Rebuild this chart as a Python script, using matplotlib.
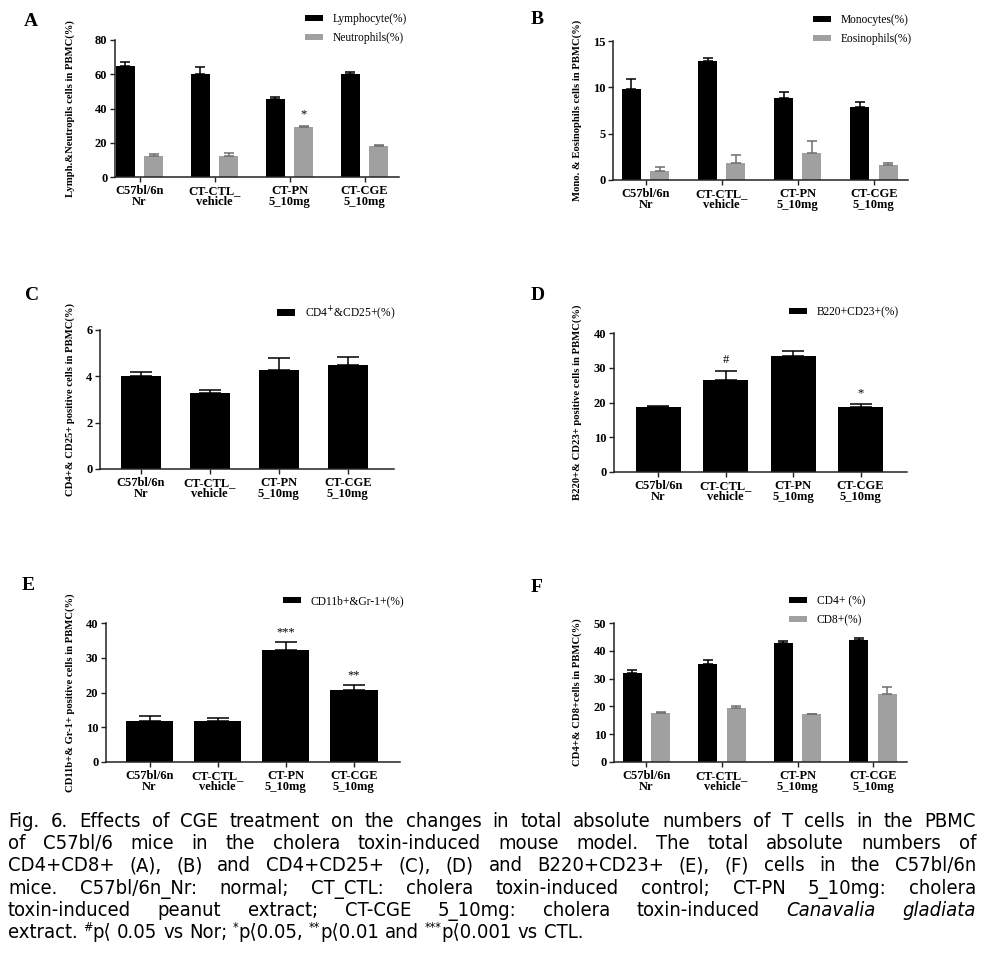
import matplotlib
matplotlib.use('Agg')
import matplotlib.pyplot as plt
import numpy as np

# ---------------- data ----------------
categories = ["C57bl/6n\nNr", "CT-CTL_\nvehicle", "CT-PN\n5_10mg", "CT-CGE\n5_10mg"]

lymph = [65.0, 60.3, 45.8, 60.3]
lymph_err = [2.0, 4.0, 1.0, 0.8]
neutro = [12.2, 12.2, 29.3, 18.3]
neutro_err = [1.4, 2.0, 0.4, 0.5]
sig_A = ["", "", "*", ""]          # over neutrophils

mono = [9.8, 12.8, 8.9, 7.9]
mono_err = [1.15, 0.35, 0.55, 0.5]
eos = [0.95, 1.8, 2.95, 1.65]
eos_err = [0.4, 0.85, 1.25, 0.15]

cd4cd25 = [4.0, 3.3, 4.27, 4.47]
cd4cd25_err = [0.19, 0.12, 0.5, 0.35]

b220 = [18.6, 26.4, 33.3, 18.8]
b220_err = [0.5, 2.8, 1.4, 0.8]
sig_D = ["", "#", "", "*"]

cd11b = [11.7, 11.9, 32.3, 20.8]
cd11b_err = [1.4, 0.7, 2.1, 1.3]
sig_E = ["", "", "***", "**"]

cd4 = [31.9, 35.3, 42.7, 44.0]
cd4_err = [1.1, 1.3, 0.8, 0.7]
cd8 = [17.5, 19.6, 17.3, 24.6]
cd8_err = [0.6, 0.7, 0.0, 2.3]

caption_lines = [
    [("Fig. 6. Effects of CGE treatment on the changes in total absolute numbers of T cells in the PBMC", "n")],
    [("of C57bl/6 mice in the cholera toxin-induced mouse model. The total absolute numbers of", "n")],
    [("CD4+CD8+ (A), (B) and CD4+CD25+ (C), (D) and B220+CD23+ (E), (F) cells in the C57bl/6n", "n")],
    [("mice. C57bl/6n_Nr: normal; CT_CTL: cholera toxin-induced control; CT-PN 5_10mg: cholera", "n")],
    [("toxin-induced peanut extract; CT-CGE 5_10mg: cholera toxin-induced", "n"), ("Canavalia gladiata", "i")],
]
caption_last = [("extract. ", "n"), ("#", "s"), ("p\u27e8 0.05 vs Nor; ", "n"), ("*", "s"),
                ("p\u27e80.05, ", "n"), ("**", "s"), ("p\u27e80.01 and ", "n"), ("***", "s"),
                ("p\u27e80.001 vs CTL.", "n")]

# ---------------- figure ----------------
W, H = 989, 969
fig = plt.figure(figsize=(W / 100, H / 100), dpi=100)
SERIF = 'Liberation Serif'
BLACK = '#000000'
GRAY = '#a0a0a0'
AXC = '#222222'


def add_ax(x0, x1, ytop, ybot):
    return fig.add_axes([x0 / W, 1 - ybot / H, (x1 - x0) / W, (ybot - ytop) / H])


def style(ax, ymax, step, xlim, ylabel, lab_x):
    ax.set_ylim(0, ymax)
    ax.set_yticks(np.arange(0, ymax + 1e-9, step))
    ax.set_xlim(*xlim)
    for s in ['top', 'right']:
        ax.spines[s].set_visible(False)
    for s in ['left', 'bottom']:
        ax.spines[s].set_linewidth(1.1)
        ax.spines[s].set_color(AXC)
    ax.tick_params(axis='both', direction='out', length=3.5, width=1, color=AXC, pad=2)
    ax.set_xticks(range(4))
    ax.set_xticklabels(categories, fontsize=9, fontweight='bold', family=SERIF, linespacing=0.95)
    ax.set_yticklabels([f"{v:g}" for v in ax.get_yticks()], fontsize=9, fontweight='bold', family=SERIF)
    ax.set_ylabel(ylabel, fontsize=7.7, fontweight='bold', family=SERIF)
    ax.yaxis.set_label_coords(lab_x, 0.5)


def ebar(ax, x, vals, errs, color, cap):
    ax.errorbar(x, vals, yerr=[np.zeros(len(vals)), errs], fmt='none', ecolor=color,
                elinewidth=1.1, capsize=cap, capthick=1.1)


def grouped(ax, a, ae, b, be, la, lb):
    x = np.arange(4)
    off, w = 0.187, 0.25
    h1 = ax.bar(x - off, a, w, color=BLACK, label=la)
    ebar(ax, x - off, a, ae, BLACK, 3.3)
    h2 = ax.bar(x + off, b, w, color=GRAY, label=lb)
    ebar(ax, x + off, b, be, '#6e6e6e', 3.3)
    return [h1, h2]


def single(ax, a, ae, la, w=0.62):
    x = np.arange(4)
    h1 = ax.bar(x, a, w, color=BLACK, label=la)
    ebar(ax, x, a, ae, BLACK, 8.0)
    return [h1]


def legend(ax, handles, px, py):
    ax.legend(handles=handles, loc='upper left', bbox_to_anchor=(px / W, 1 - py / H),
              bbox_transform=fig.transFigure, frameon=False,
              prop=dict(family=SERIF, size=8.3), handlelength=1.6, handleheight=0.45,
              handletextpad=0.8, labelspacing=0.6, borderpad=0, borderaxespad=0)


def marks(ax, xs, tops, labels, dy):
    for x, t, s in zip(xs, tops, labels):
        if s:
            ax.annotate(s, (x, t), xytext=(0, dy), textcoords='offset points', ha='center',
                        va='bottom', fontsize=9, family=SERIF)


def letter(px, py, s):
    fig.text(px / W, 1 - py / H, s, fontsize=14, fontweight='bold', family=SERIF,
             ha='center', va='center')


x = np.arange(4)

# A
axA = add_ax(115, 399, 40, 177)
hA = grouped(axA, lymph, lymph_err, neutro, neutro_err, "Lymphocyte(%)", "Neutrophils(%)")
style(axA, 80, 20, (-0.327, 3.46), "Lymph.&Neutropils cells in PBMC(%)", -0.14)
legend(axA, hA, 305, 13)
marks(axA, x + 0.187, np.add(neutro, neutro_err), sig_A, 4)
letter(31, 21, "A")

# B
axB = add_ax(613, 908, 41, 180)
hB = grouped(axB, mono, mono_err, eos, eos_err, "Monocytes(%)", "Eosinophils(%)")
style(axB, 15, 5, (-0.43, 3.45), "Mono. & Eosinophils cells in PBMC(%)", -0.105)
legend(axB, hB, 813, 14)
letter(537, 20, "B")

# C
axC = add_ax(100, 394, 330, 469)
hC = single(axC, cd4cd25, cd4cd25_err, "CD4$^{+}$&CD25+(%)", w=0.58)
style(axC, 6, 2, (-0.59, 3.67), "CD4+& CD25+ positive cells in PBMC(%)", -0.085)
legend(axC, hC, 277, 304)
letter(32, 295, "C")

# D
axD = add_ax(614, 907, 333, 472)
hD = single(axD, b220, b220_err, "B220+CD23+(%)", w=0.67)
style(axD, 40, 10, (-0.66, 3.69), "B220+& CD23+ positive cells in PBMC(%)", -0.109)
legend(axD, hD, 789, 306)
marks(axD, x, np.add(b220, b220_err), sig_D, 3)
letter(538, 296, "D")

# E
axE = add_ax(106, 400, 623, 762)
hE = single(axE, cd11b, cd11b_err, "CD11b+&Gr-1+(%)", w=0.70)
style(axE, 40, 10, (-0.64, 3.68), "CD11b+& Gr-1+ positive cells in PBMC(%)", -0.105)
legend(axE, hE, 283, 595)
marks(axE, x, np.add(cd11b, cd11b_err), sig_E, 3)
letter(28, 585, "E")

# F
axF = add_ax(614, 907, 623, 762)
hF = grouped(axF, cd4, cd4_err, cd8, cd8_err, "CD4+ (%)", "CD8+(%)")
style(axF, 50, 10, (-0.43, 3.45), "CD4+& CD8+cells in PBMC(%)", -0.109)
legend(axF, hF, 789, 595)
letter(537, 588, "F")

# ---------------- caption (justified) ----------------
renderer = fig.canvas.get_renderer()
CAPF = ['Liberation Sans Narrow', 'DejaVu Sans']
FS = 14.5


def props(kind):
    if kind == 'i':
        return dict(family=CAPF, style='italic', fontstretch='condensed', fontsize=FS)
    if kind == 's':
        return dict(family=CAPF, fontstretch='condensed', fontsize=FS * 0.62)
    return dict(family=CAPF, fontstretch='condensed', fontsize=FS)


def width(s, kind):
    t = fig.text(0, 0, s, **props(kind))
    w = t.get_window_extent(renderer).width
    t.remove()
    return w


x_left, x_right = 8, 976
y0, dy = 827, 22.2

for i, segs in enumerate(caption_lines):
    words = []
    for s, k in segs:
        for wd in s.split(' '):
            if wd:
                words.append((wd, k))
    ws = [width(wd, k) for wd, k in words]
    gap = (x_right - x_left - sum(ws)) / (len(words) - 1)
    xp = x_left
    yb = y0 + i * dy
    for (wd, k), wdt in zip(words, ws):
        fig.text(xp / W, 1 - yb / H, wd, ha='left', va='baseline', **props(k))
        xp += wdt + gap

# last line, natural spacing, superscripts
space_w = width("a a", 'n') - width("aa", 'n')
yb = y0 + 5 * dy
xp = x_left
for s, k in caption_last:
    parts = s.split(' ')
    for j, p in enumerate(parts):
        if p:
            yy = yb - (7 if k == 's' else 0)
            fig.text(xp / W, 1 - yy / H, p, ha='left', va='baseline', **props(k))
            xp += width(p, k)
        if j < len(parts) - 1:
            xp += space_w

fig.savefig('out.png', dpi=100)
